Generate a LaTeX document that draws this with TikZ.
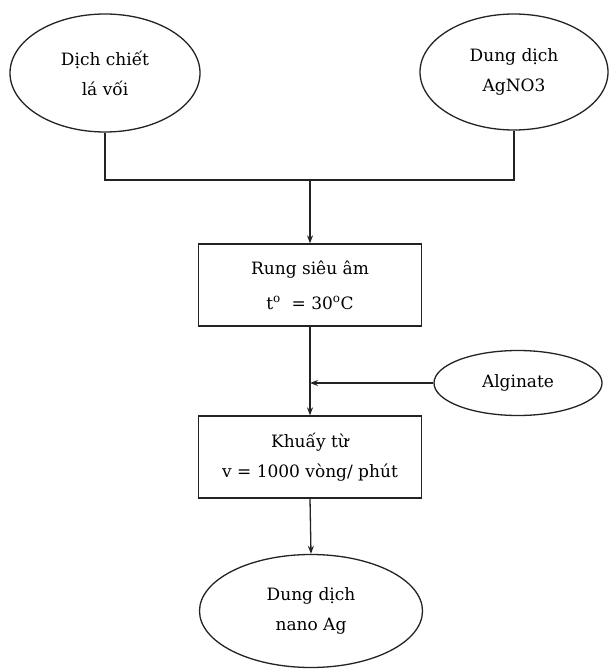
\documentclass[tikz,border=0pt]{standalone}
\usepackage{fontspec}
\setmainfont{DejaVu Serif}
\usepackage{xcolor}
\usepackage{tikz}
\usetikzlibrary{shapes.geometric, arrows.meta, positioning, calc}
\definecolor{mydark}{RGB}{35,35,35}
\tikzset{
  source/.style={ellipse, draw=mydark, fill=white, inner sep=0pt,
    align=center, line width=1.3pt,
    font=\fontsize{17}{30}\selectfont},
  stepbox/.style={rectangle, draw=mydark, fill=white, inner sep=0pt,
    align=center, minimum width=223pt, line width=1.3pt,
    font=\fontsize{17}{35}\selectfont},
  arrow/.style={-{Stealth[length=8pt, width=6pt]}, line width=1.3pt, color=mydark},
  line/.style={line width=1.3pt, color=mydark}
}

\begin{document}
\begin{tikzpicture}[x=1pt, y=-1pt]
  \useasboundingbox (0,0) rectangle (608,669);

  % ── Starting materials ────────────────────────────────────────────────────
  \node[source, minimum width=190pt, minimum height=118pt] (extract) at (105,73) {Dịch chiết\\lá vối};
  \node[source, minimum width=188pt, minimum height=116pt] (silver) at (514,72) {Dung dịch\\AgNO3};

  % ── Process steps ─────────────────────────────────────────────────────────
  \node[stepbox, minimum height=82pt] (sonic) at (310,285) {Rung siêu âm\\t\textsuperscript{o}\ \ = 30\textsuperscript{o}C};
  \node[stepbox, minimum height=82pt] (stir) at (310,457) {Khuấy từ\\[-5pt]v = 1000 vòng/ phút};
  \node[source, minimum width=168pt, minimum height=65pt] (alginate) at (518,383) {Alginate};

  % ── Product ───────────────────────────────────────────────────────────────
  \node[source, minimum width=223pt, minimum height=113pt] (product) at (311,611) {Dung dịch\\nano Ag};

  % ── Connectors ────────────────────────────────────────────────────────────
  \coordinate (join) at (310,180);
  \draw[line] (extract.south) |- (join) -| (silver.south);
  \draw[arrow] (join) -- (sonic.north);
  \draw[arrow] (sonic.south) -- (stir.north);
  \draw[arrow] (alginate.west) -- (alginate.west -| sonic.south);
  \draw[arrow] (stir.south) -- (product.north);
\end{tikzpicture}
\end{document}
